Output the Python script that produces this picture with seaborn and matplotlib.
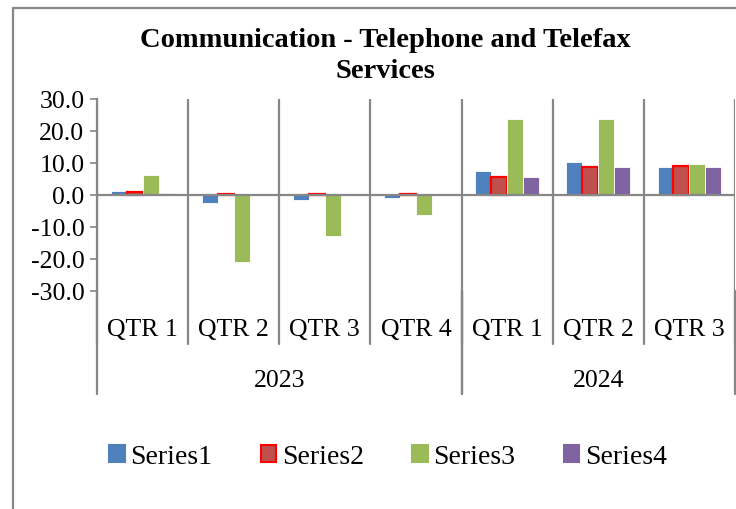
import pandas as pd
import numpy as np
import matplotlib
matplotlib.use("Agg")
import matplotlib.pyplot as plt
import seaborn as sns
from matplotlib.patches import Rectangle
from matplotlib.lines import Line2D

# --- data ---
years = ["2023", "2023", "2023", "2023", "2024", "2024", "2024"]
quarters = ["QTR 1", "QTR 2", "QTR 3", "QTR 4", "QTR 1", "QTR 2", "QTR 3"]
series_names = ["Series1", "Series2", "Series3", "Series4"]
series1 = [1.1, -2.6, -1.6, -0.8, 7.5, 10.3, 8.9]
series2 = [0.8, 0.2, 0.2, 0.3, 5.7, 8.9, 9.0]
series3 = [6.3, -21.0, -12.8, -6.2, 23.7, 23.7, 9.7]
series4 = [0.5, 0.1, 0.1, 0.1, 5.5, 8.8, 8.8]
colors = ["#4F81BD", "#C0504D", "#9BBB59", "#8064A2"]

keys = [f"{y} {q}" for y, q in zip(years, quarters)]
rows = []
for name, vals in zip(series_names, [series1, series2, series3, series4]):
    for k, v in zip(keys, vals):
        rows.append({"period": k, "series": name, "value": v})
df = pd.DataFrame(rows)

sns.set_theme(style="white")
plt.rcParams["font.family"] = ["Liberation Serif", "DejaVu Serif"]
plt.rcParams["text.color"] = "black"

fig = plt.figure(figsize=(7.36, 5.10), dpi=100)
ax = fig.add_axes([97 / 736, 1 - 292 / 510, (735 - 97) / 736, 192 / 510])

sns.barplot(data=df, x="period", y="value", hue="series", order=keys,
            hue_order=series_names, palette=dict(zip(series_names, colors)),
            width=0.7, saturation=1, ax=ax, legend=False)

grey = "#878787"
# bar edges: red outline on Series2, light edges elsewhere
for cont, name in zip(ax.containers, series_names):
    for bar in cont:
        if name == "Series2":
            bar.set_edgecolor("#FF0000")
            bar.set_linewidth(1.6)
        else:
            bar.set_edgecolor("white")
            bar.set_linewidth(0.6)

ax.set_xlim(-0.5, len(keys) - 0.5)
ax.set_ylim(-30, 30)
ax.set_yticks(np.arange(-30, 31, 10))
ax.set_yticklabels([f"{t:.1f}" for t in np.arange(-30, 31, 10)])
ax.set_xticks([])
ax.set_xlabel("")
ax.set_ylabel("")
ax.tick_params(axis="y", direction="out", length=5, width=1.2, color=grey,
               labelsize=18.5, labelcolor="black", pad=4, left=True)

for s in ["top", "right", "bottom"]:
    ax.spines[s].set_visible(False)
ax.spines["left"].set_color(grey)
ax.spines["left"].set_linewidth(1.6)

# vertical dividers and zero line
for xb in np.arange(-0.5, len(keys), 1.0):
    ax.axvline(xb, color=grey, lw=1.6, zorder=0.5)
ax.axhline(0, color=grey, lw=1.6, zorder=3)

# multi-level category axis below the plot
trans = ax.get_xaxis_transform()
h_px = 192.0
def yfrac(px_below):
    return -px_below / h_px

for i, q in enumerate(quarters):
    ax.text(i, yfrac(38), q, transform=trans, ha="center", va="center",
            fontsize=18.5, color="black")
for xb in np.arange(-0.5, len(keys), 1.0):
    ax.add_line(Line2D([xb, xb], [0, yfrac(53)], transform=trans, color=grey,
                       lw=1.6, clip_on=False))
year_groups = [("2023", -0.5, 3.5), ("2024", 3.5, 6.5)]
for label, a, b in year_groups:
    ax.text((a + b) / 2, yfrac(89), label, transform=trans, ha="center",
            va="center", fontsize=18.5, color="black")
    for xb in (a, b):
        ax.add_line(Line2D([xb, xb], [0, yfrac(103)], transform=trans,
                           color=grey, lw=1.6, clip_on=False))

# title
fig.text(385 / 736, 1 - 56 / 510, "Communication - Telephone and Telefax\nServices",
         ha="center", va="center", fontsize=20.5, fontweight="bold",
         linespacing=1.35, color="black")

# legend
handles = []
for name, c in zip(series_names, colors):
    ec = "#FF0000" if name == "Series2" else c
    handles.append(Rectangle((0, 0), 1, 1, facecolor=c, edgecolor=ec, lw=1.5))
fig.legend(handles, series_names, loc="center", ncol=4, frameon=False,
           bbox_to_anchor=(388 / 736, 1 - 458 / 510), fontsize=20,
           handlelength=0.55, handleheight=0.55, handletextpad=0.2,
           columnspacing=1.75)

# chart border (cropped on right and bottom)
fig.add_artist(Rectangle((13 / 736, -0.2), 1.2, 1.2 + (1 - 9 / 510) - 1,
                         transform=fig.transFigure, fill=False,
                         edgecolor=grey, lw=1.6))

fig.savefig("out.png", dpi=100)
